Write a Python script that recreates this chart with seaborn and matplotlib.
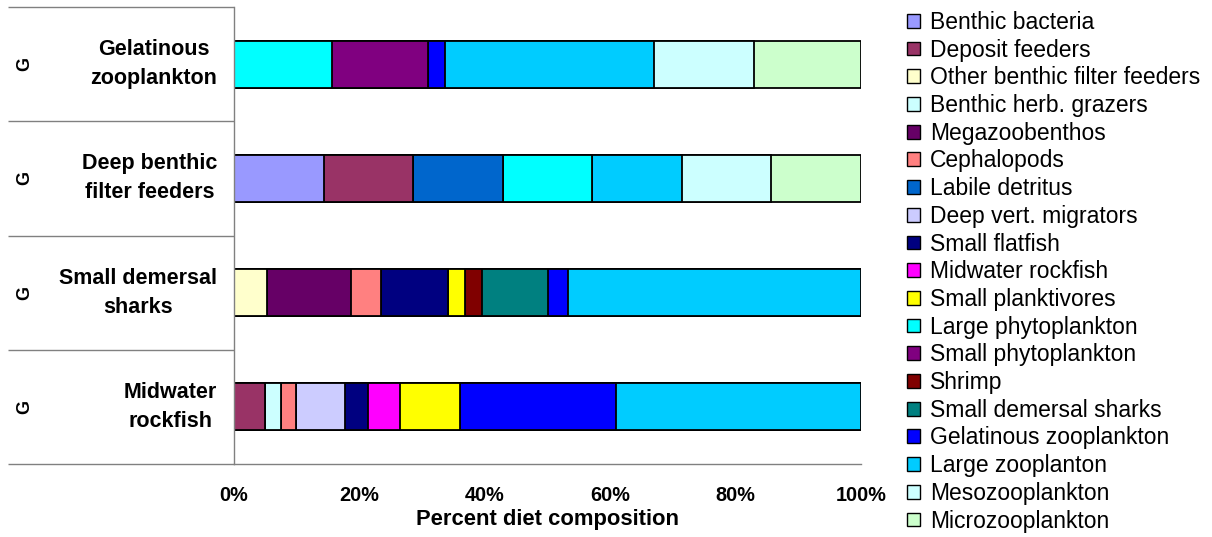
import numpy as np
import pandas as pd
import matplotlib
matplotlib.use("Agg")
import matplotlib.pyplot as plt
from matplotlib.patches import Patch
from matplotlib.ticker import PercentFormatter
import seaborn as sns

# Predator groups (rows, top to bottom)
predators = [
    "Gelatinous\nzooplankton",
    "Deep benthic\nfilter feeders",
    "Small demersal\nsharks",
    "Midwater\nrockfish",
]

# Prey groups (stack order, left to right)
prey = [
    "Benthic bacteria", "Deposit feeders", "Other benthic filter feeders",
    "Benthic herb. grazers", "Megazoobenthos", "Cephalopods", "Labile detritus",
    "Deep vert. migrators", "Small flatfish", "Midwater rockfish",
    "Small planktivores", "Large phytoplankton", "Small phytoplankton",
    "Shrimp", "Small demersal sharks", "Gelatinous zooplankton",
    "Large zooplanton", "Mesozooplankton", "Microzooplankton",
]

prey_colors = [
    "#9999FF", "#993366", "#FFFFCC", "#CCFFFF", "#660066", "#FF8080",
    "#0066CC", "#CCCCFF", "#000080", "#FF00FF", "#FFFF00", "#00FFFF",
    "#800080", "#800000", "#008080", "#0000FF", "#00CCFF", "#CCFFFF",
    "#CCFFCC",
]

# Diet composition (%) of each predator, aligned with `prey`
diet_gelatinous_zoo = [0, 0, 0, 0, 0, 0, 0, 0, 0, 0, 0,
                       15.6, 15.4, 0, 0, 2.6, 33.4, 16.0, 17.0]
diet_deep_benthic_ff = [14.28, 14.29, 0, 0, 0, 0, 14.29, 0, 0, 0, 0,
                        14.28, 0, 0, 0, 0, 14.29, 14.29, 14.28]
diet_small_dem_sharks = [0, 0, 5.3, 0, 13.3, 4.8, 0, 0, 10.8, 0, 2.7,
                         0, 0, 2.7, 10.5, 3.1, 46.8, 0, 0]
diet_midwater_rockfish = [0, 5.0, 0, 2.5, 0, 2.4, 0, 7.8, 3.7, 5.1, 9.5,
                          0, 0, 0, 0, 25.0, 39.0, 0, 0]

diets = [diet_gelatinous_zoo, diet_deep_benthic_ff,
         diet_small_dem_sharks, diet_midwater_rockfish]

xticks = [0, 20, 40, 60, 80, 100]

# Long table with cumulative right edges of each stacked segment
rows = []
for pred, vals in zip(predators, diets):
    cum = np.cumsum(vals)
    for name, v, c in zip(prey, vals, cum):
        rows.append({"predator": pred, "prey": name, "pct": v, "right": c})
df = pd.DataFrame(rows)

sns.set_theme(style="white")
plt.rcParams["font.family"] = ["Liberation Sans", "DejaVu Sans"]
plt.rcParams.update({
    "text.color": "black",
    "axes.labelcolor": "black",
    "xtick.color": "black",
    "ytick.color": "black",
})

W, H = 1212, 537
fig = plt.figure(figsize=(W / 100, H / 100), dpi=100)
ax = fig.add_axes([234 / W, 1 - 464 / H, (861 - 234) / W, (464 - 7) / H])

# Stacked bars: draw cumulative bars from the last prey group backwards
for name, color in reversed(list(zip(prey, prey_colors))):
    sub = df[df["prey"] == name]
    sns.barplot(data=sub, x="right", y="predator", order=predators,
                orient="h", color=color, saturation=1, width=0.41,
                edgecolor="black", linewidth=1.3, errorbar=None, ax=ax)

ax.set_xlim(0, 100)
ax.set_ylim(3.5, -0.5)
ax.set_xticks(xticks)
ax.xaxis.set_major_formatter(PercentFormatter(decimals=0))
ax.set_xlabel("Percent diet composition", fontsize=15.8, fontweight="bold",
              labelpad=3)
ax.set_ylabel("")

axis_grey = "#808080"
for side in ["top", "right"]:
    ax.spines[side].set_visible(False)
for side in ["left", "bottom"]:
    ax.spines[side].set_color(axis_grey)
    ax.spines[side].set_linewidth(1.0)

ax.tick_params(axis="x", direction="out", length=4, width=1.0,
               color=axis_grey, labelcolor="black", pad=12, labelsize=14.3)
ax.tick_params(axis="y", length=0, pad=12, labelsize=15.5, labelcolor="black")
for lab in ax.get_xticklabels():
    lab.set_fontweight("bold")
for lab in ax.get_yticklabels():
    lab.set_fontweight("bold")
    lab.set_multialignment("center")
    lab.set_linespacing(1.5)
    lab.set_verticalalignment("center")

# Category separators and group markers to the left of the axis
left_edge = (8 - 234) / (861 - 234)
ytr = ax.get_yaxis_transform()
for yb in np.arange(-0.5, len(predators), 1.0):
    ax.plot([left_edge, 0], [yb, yb], transform=ytr, color=axis_grey,
            lw=1.0, clip_on=False, solid_capstyle="butt")
g_x = (25 - 234) / (861 - 234)
for i in range(len(predators)):
    ax.text(g_x, i, "G", transform=ytr, rotation=90, ha="center",
            va="center", fontsize=13, fontweight="bold", color="black")

handles = [Patch(facecolor=c, edgecolor="black", linewidth=1.0)
           for c in prey_colors]
fig.legend(handles, prey, loc="upper left", bbox_to_anchor=(907 / W, 1 - 11 / H),
           frameon=False, fontsize=16.5, handlelength=0.55, handleheight=0.55,
           handletextpad=0.45, labelspacing=0.205, borderpad=0, borderaxespad=0)

fig.savefig("out.png", dpi=100)
